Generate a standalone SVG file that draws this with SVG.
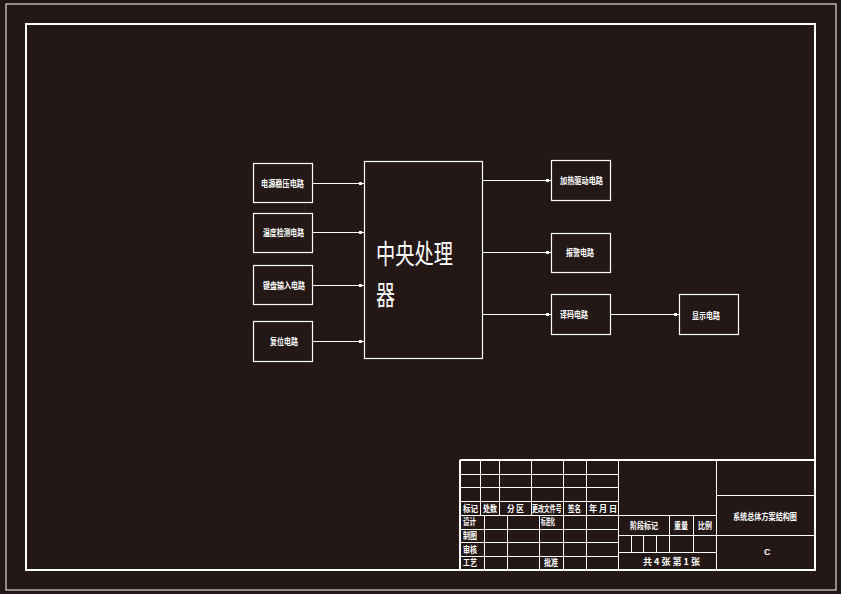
<svg xmlns="http://www.w3.org/2000/svg" width="841" height="594" viewBox="0 0 841 594">
<style>
.ln{stroke:#fff;stroke-width:1;fill:none}
.bx{stroke:#fff;stroke-width:1.2;fill:none}
.th{stroke:#fff;stroke-width:2;fill:none}
.t{fill:#fff;font-family:"Noto Sans CJK SC","Noto Sans",sans-serif;font-weight:bold;font-size:9px}
.big{fill:#fff;font-family:"Noto Sans CJK SC","Noto Sans",sans-serif;font-size:27px}
</style>
<defs>
<marker id="sq" markerUnits="userSpaceOnUse" markerWidth="3" markerHeight="3" viewBox="0 0 3 3" refX="5" refY="1.5" orient="auto">
<rect width="3" height="3" fill="#fff"/>
</marker>
</defs>
<rect width="841" height="594" fill="#231816"/>
<rect x="6" y="4" width="830" height="586" class="ln"/>
<rect x="26" y="24" width="789" height="546" class="th"/>

<g id="n-power"><rect x="253.5" y="163.5" width="59" height="39" class="bx"/><text class="t" x="261" y="186.5" textLength="43" lengthAdjust="spacingAndGlyphs">电源稳压电路</text></g>
<g id="n-temp"><rect x="253.5" y="213.5" width="59" height="39" class="bx"/><text class="t" x="263" y="235.5" textLength="41" lengthAdjust="spacingAndGlyphs">温度检测电路</text></g>
<g id="n-key"><rect x="253.5" y="265.5" width="59" height="39" class="bx"/><text class="t" x="263" y="288.5" textLength="42" lengthAdjust="spacingAndGlyphs">键盘输入电路</text></g>
<g id="n-reset"><rect x="253.5" y="321.5" width="59" height="40" class="bx"/><text class="t" x="270" y="344.5" textLength="28" lengthAdjust="spacingAndGlyphs">复位电路</text></g>

<g id="n-cpu"><rect x="364.5" y="161.5" width="118" height="197" class="bx"/>
<text class="big" x="376" y="264" textLength="77" lengthAdjust="spacingAndGlyphs">中央处理</text>
<text class="big" x="376" y="305" textLength="19" lengthAdjust="spacingAndGlyphs">器</text></g>

<g id="n-heat"><rect x="551.5" y="160.5" width="59" height="40" class="bx"/><text class="t" x="560" y="183.5" textLength="43" lengthAdjust="spacingAndGlyphs">加热驱动电路</text></g>
<g id="n-alarm"><rect x="551.5" y="233.5" width="59" height="39" class="bx"/><text class="t" x="566" y="255.5" textLength="28" lengthAdjust="spacingAndGlyphs">报警电路</text></g>
<g id="n-decode"><rect x="551.5" y="294.5" width="59" height="40" class="bx"/><text class="t" x="560" y="317.5" textLength="28" lengthAdjust="spacingAndGlyphs">译码电路</text></g>
<g id="n-display"><rect x="679.5" y="294.5" width="59" height="40" class="bx"/><text class="t" x="692" y="319" textLength="28" lengthAdjust="spacingAndGlyphs">显示电路</text></g>

<g id="connectors">
<line x1="313" y1="183.5" x2="364" y2="183.5" class="ln" marker-end="url(#sq)"/>
<line x1="313" y1="232.5" x2="364" y2="232.5" class="ln" marker-end="url(#sq)"/>
<line x1="313" y1="285.5" x2="364" y2="285.5" class="ln" marker-end="url(#sq)"/>
<line x1="313" y1="341.5" x2="364" y2="341.5" class="ln" marker-end="url(#sq)"/>
<line x1="483" y1="180.5" x2="551" y2="180.5" class="ln" marker-end="url(#sq)"/>
<line x1="483" y1="252.5" x2="551" y2="252.5" class="ln" marker-end="url(#sq)"/>
<line x1="483" y1="314.5" x2="551" y2="314.5" class="ln" marker-end="url(#sq)"/>
<line x1="611" y1="314.5" x2="679" y2="314.5" class="ln" marker-end="url(#sq)"/>
</g>

<g id="titleblock">
<line x1="460" y1="460" x2="815" y2="460" class="th"/>
<line x1="460" y1="460" x2="460" y2="570" class="th"/>
<path class="ln" d="M460 474.5H618 M460 487.5H618 M460 501.5H618 M460 515.5H618 M460 529.5H618 M460 542.5H618 M460 556.5H618"/>
<path class="ln" d="M480.5 460V515 M499.5 460V515 M531.5 460V515 M563.5 460V570 M586.5 460V570 M618.5 460V570"/>
<path class="ln" d="M484.5 515V570 M507.5 515V570 M539.5 515V570"/>
<path class="ln" d="M618 515.5H717 M618 535.5H815 M618 552.5H717 M669.5 515V552 M693.5 515V552 M631.5 535V552 M643.5 535V552 M656.5 535V552 M716.5 460V570 M717 495.5H815"/>
<text class="t" transform="translate(463,511.5) scale(0.83,1)">标记</text>
<text class="t" transform="translate(483,511.5) scale(0.78,1)">处数</text>
<text class="t" x="507" y="511.5" textLength="17" lengthAdjust="spacingAndGlyphs">分 区</text>
<text class="t" transform="translate(532,511.5) scale(0.66,1)">更改文件号</text>
<text class="t" transform="translate(568,511.5) scale(0.72,1)">签名</text>
<text class="t" x="589" y="511.5" textLength="28" lengthAdjust="spacingAndGlyphs">年 月 日</text>
<text class="t" transform="translate(463,525) scale(0.72,1)">设计</text>
<text class="t" transform="translate(541,525) scale(0.52,1)">标准化</text>
<text class="t" transform="translate(463,538.5) scale(0.78,1)">制图</text>
<text class="t" transform="translate(463,552.5) scale(0.78,1)">审核</text>
<text class="t" transform="translate(463,566) scale(0.78,1)">工艺</text>
<text class="t" transform="translate(544,566) scale(0.78,1)">批准</text>
<text class="t" transform="translate(630,528.5) scale(0.78,1)">阶段标记</text>
<text class="t" transform="translate(674,528.5) scale(0.78,1)">重量</text>
<text class="t" transform="translate(698,528.5) scale(0.78,1)">比例</text>
<text class="t" x="643" y="565" textLength="57" lengthAdjust="spacingAndGlyphs">共 4 张  第 1 张</text>
<text class="t" transform="translate(733,519.5) scale(0.79,1)">系统总体方案结构图</text>
<text x="764" y="554.5" fill="#fff" font-family="Liberation Sans, sans-serif" font-weight="bold" font-size="9">C</text>
</g>
</svg>
